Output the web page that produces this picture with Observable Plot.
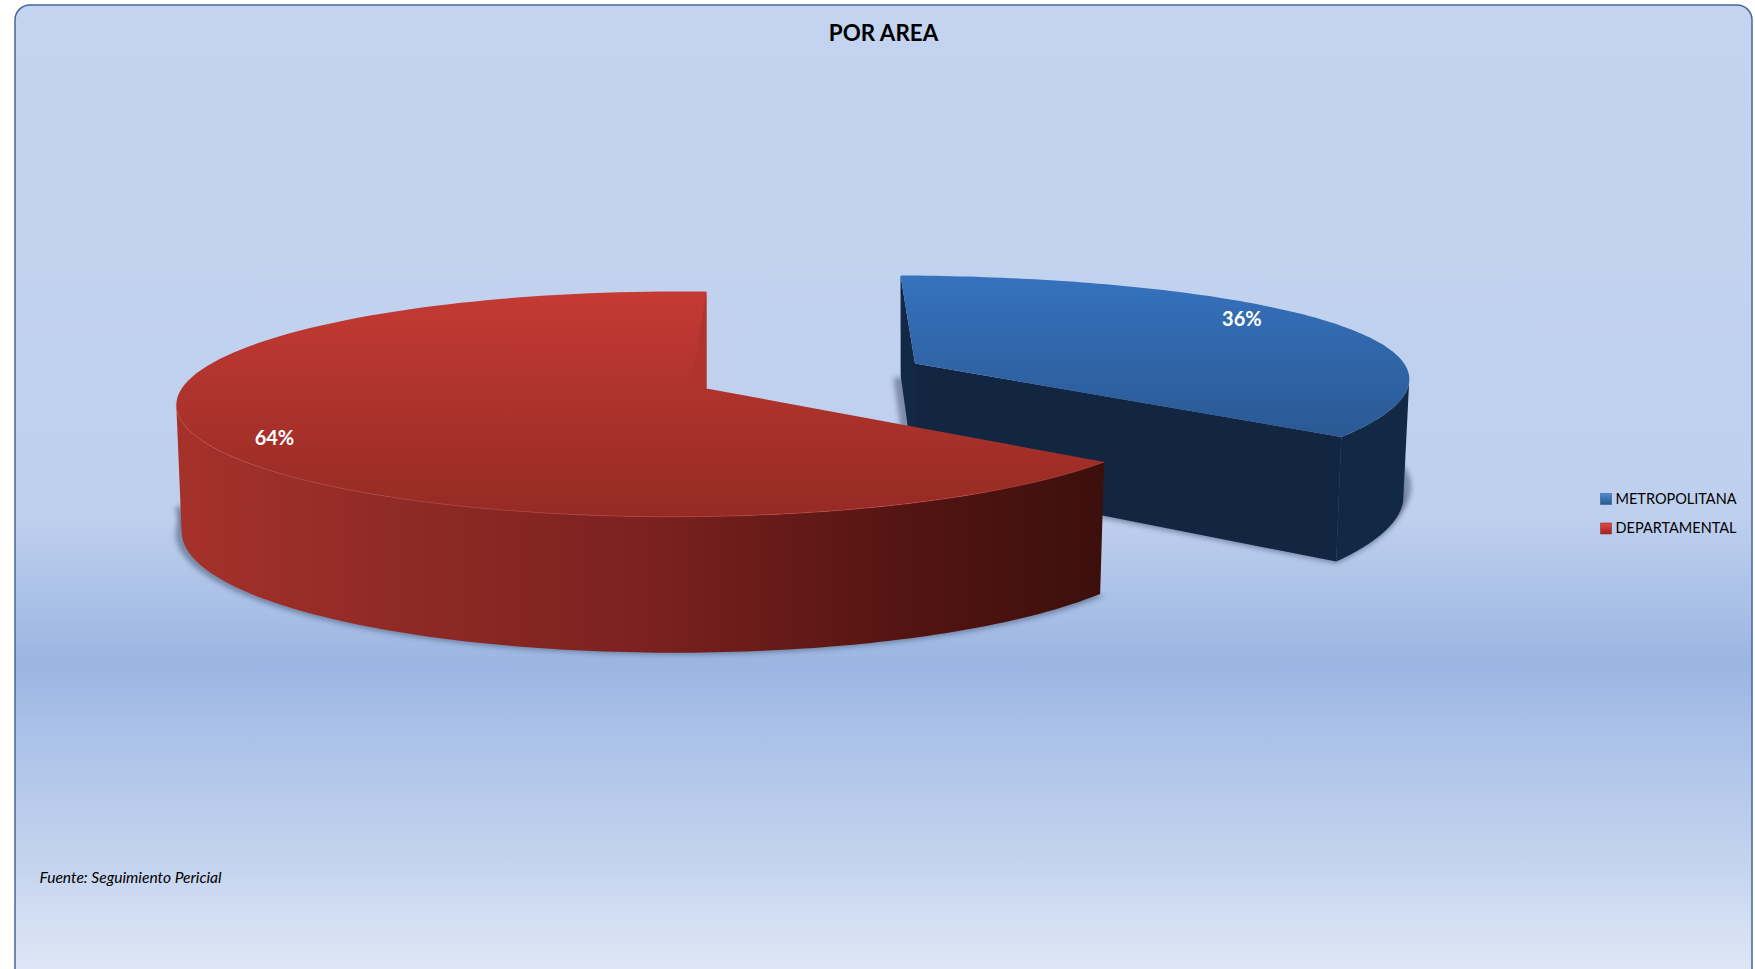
<!DOCTYPE html>
<html><head><meta charset="utf-8">
<style>html,body{margin:0;padding:0;background:#fff;overflow:hidden}svg{display:block}</style>
<script src="https://cdn.jsdelivr.net/npm/d3@7"></script>
<script src="https://cdn.jsdelivr.net/npm/@observablehq/plot@0.6"></script>
</head><body><div id="chart"></div>
<script>
const categories = ["METROPOLITANA", "DEPARTAMENTAL"];
const shares = [36, 64];
const titleText = "POR AREA";
const sourceText = "Fuente: Seguimiento Pericial";

// projection of the tilted, exploded pie (one per slice)
const view = {
  METROPOLITANA: {ax: 914.5, ay: 363, R: 516, S: 16.5, B: 107.4, T: -2.5, p: .138, py: .22, q: .0587, h0: 115, h1: 15, k: .988, lf: .445, lr: .845, spread: 1.016},
  DEPARTAMENTAL: {ax: 706, ay: 388, R: 494, S: 0, B: 110.3, T: 0, p: .138, py: .138, q: .0587, h0: 125, h1: 11, k: .99, lf: .49, lr: .885, spread: 1.0115}
};
const total = d3.sum(shares);
let acc = 0;
const slices = categories.map((name, i) => {
  const a0 = acc / total * 2 * Math.PI; acc += shares[i];
  const a1 = acc / total * 2 * Math.PI;
  return {name, share: shares[i], a0, a1, v: view[name]};
});
function upper(s, u, v) {
  const {ax, ay, R, S, B, T, p, py, q} = s.v;
  return {x: ax + (R * u + S * v) / (1 - p * v + q * u), y: ay + (B * v + T * u) / (1 - py * v + q * u)};
}
function lower(s, u, v) {
  const t = upper(s, u, v);
  return {x: s.v.ax + (t.x - s.v.ax) * s.v.k, y: t.y + s.v.h0 + s.v.h1 * v};
}
const polar = (a, r = 1) => [r * Math.sin(a), -r * Math.cos(a)];
const arc = (s, f, a0 = s.a0, a1 = s.a1) => d3.range(0, 121).map(i => f(s, ...polar(a0 + (a1 - a0) * i / 120)));
// angle at which the rim reaches its horizontal extreme: where the outer wall starts to show
const turning = (s, sign) => d3.greatest(d3.range(0, 721).map(i => s.a0 + (s.a1 - s.a0) * i / 720), a => sign * upper(s, ...polar(a)).x);
const apexT = s => upper(s, 0, 0), apexB = s => lower(s, 0, 0);
const topFace = s => [apexT(s), ...arc(s, upper)];
const outerWall = (s, a0, a1) => [...arc(s, upper, a0, a1), ...arc(s, lower, a0, a1).reverse()];
const cutWall = (s, a) => [apexT(s), upper(s, ...polar(a)), lower(s, ...polar(a)), apexB(s)];
const shadowFace = (s, a0, a1, dx, dy) => [apexB(s), ...arc(s, lower, a0, a1)].map(d => ({x: s.v.ax + (d.x - s.v.ax) * s.v.spread + dx, y: d.y + dy}));
const poly = (points, o) => Plot.line(points, {x: "x", y: "y", stroke: "none", ...o});

const [blue, red] = slices;
const wedge = [upper(red, ...polar(2 * Math.PI)), upper(red, -.032, -.027), apexT(red)];
const sliceLabels = slices.map(s => ({
  ...upper(s, ...polar(s.a0 + (s.a1 - s.a0) * s.v.lf, s.v.lr)), text: s.share + "%"
}));

const stops = (id, x2, list) => `<linearGradient id="${id}" x1="0" y1="0" x2="${x2}" y2="${x2 ? 0 : 1}">` +
  list.map(([o, c]) => `<stop offset="${o}" stop-color="${c}"/>`).join("") + `</linearGradient>`;
const defs = () => {
  const g = document.createElementNS("http://www.w3.org/2000/svg", "g");
  g.innerHTML = `<defs>` +
    stops("panel", 0, [[0, "#C4D4F0"], [.52, "#BFD0EE"], [.675, "#9BB5E2"], [.73, "#A8BFE7"], [.87, "#C3D3EE"], [.99, "#E0E8F6"]]) +
    stops("blueTop", 0, [[0, "#3672BE"], [1, "#2A5994"]]) +
    stops("redTop", 0, [[0, "#C53A34"], [1, "#952A24"]]) +
    stops("redWall", 1, [[0, "#A6312B"], [.24, "#8F2A25"], [.52, "#7A211F"], [.62, "#6B1B1A"], [.78, "#541512"], [1, "#3C0F0C"]]) +
    stops("blueKey", 0, [[0, "#4F8CD0"], [1, "#26598F"]]) +
    stops("redKey", 0, [[0, "#E04A44"], [1, "#A02420"]]) +
    `</defs>`;
  return g;
};

const font = "Lato, Carlito, 'Open Sans', sans-serif";
const shadow = {fill: "#4E5F7C", fillOpacity: .6, imageFilter: "blur(2.5px)"};
const chart = Plot.plot({
  width: 1755, height: 969, margin: 0,
  style: {background: "#fff", fontFamily: font, overflow: "hidden"},
  x: {domain: [0, 1755], axis: null},
  y: {domain: [969, 0], axis: null},
  marks: [
    defs,
    Plot.rect([{x1: 15, x2: 1752, y1: 5, y2: 985}], {x1: "x1", x2: "x2", y1: "y1", y2: "y2", rx: 15, fill: "url(#panel)", stroke: "#44689C", strokeWidth: 1.5}),
    poly(shadowFace(blue, blue.a0, blue.a1, -7, 2), shadow),
    poly(shadowFace(blue, blue.a1 * .6, blue.a1, 0, -10), shadow),
    poly(outerWall(blue, turning(blue, 1), blue.a1), {fill: "#132845"}),
    poly(cutWall(blue, blue.a0), {fill: "#132845"}),
    poly(cutWall(blue, blue.a1), {fill: "#122642"}),
    poly(topFace(blue), {fill: "url(#blueTop)"}),
    poly(shadowFace(red, red.a0, red.a1, 0, 2), shadow),
    poly(shadowFace(red, red.a0 + .9 * (red.a1 - red.a0) * .5, turning(red, -1), 0, -25), shadow),
    poly(outerWall(red, red.a0, turning(red, -1)), {fill: "url(#redWall)"}),
    poly(topFace(red), {fill: "url(#redTop)"}),
    poly(wedge, {fill: "#B0332E", fillOpacity: .85}),
    Plot.line(arc(red, upper, red.a0, turning(red, -1)), {x: "x", y: "y", stroke: "#C94A42", strokeWidth: .7, strokeOpacity: .8}),
    Plot.text(sliceLabels, {x: "x", y: "y", text: "text", fill: "#fff", fontWeight: "bold", fontSize: 20, fontFamily: font}),
    Plot.text([titleText], {x: () => 883, y: () => 33, text: d => d, fontWeight: "bold", fontSize: 22.4, fill: "#000", fontFamily: font}),
    Plot.text([sourceText], {x: () => 39, y: () => 877, text: d => d, textAnchor: "start", fontStyle: "italic", fontSize: 15.6, fill: "#000", fontFamily: font}),
    Plot.dot([categories[0]], {x: () => 1605.5, y: () => 498.5, symbol: "square", r: 6.2, fill: "url(#blueKey)", stroke: "#2E5C94", strokeWidth: .6}),
    Plot.dot([categories[1]], {x: () => 1605.5, y: () => 528, symbol: "square", r: 6.2, fill: "url(#redKey)", stroke: "#9A2A26", strokeWidth: .6}),
    Plot.text(categories, {x: () => 1615, y: (d, i) => 498.5 + i * 29, text: d => d, textAnchor: "start", fontSize: 14.5, fill: "#000", fontFamily: font})
  ]
});
document.getElementById("chart").append(chart);
</script>
</body></html>
